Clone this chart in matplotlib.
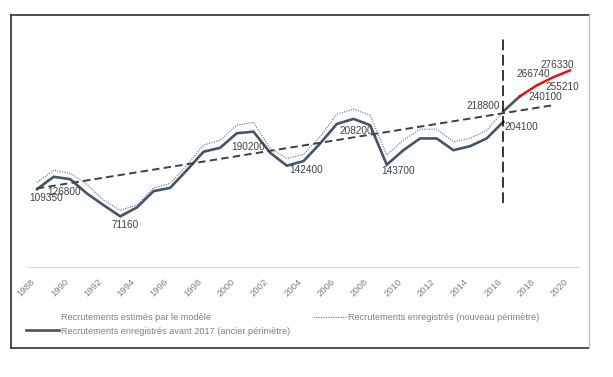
import matplotlib
matplotlib.use("Agg")
import matplotlib.pyplot as plt
from matplotlib.lines import Line2D

# --- données ---
annees = list(range(1988, 2017))
ancien_perimetre = [109350, 126800, 123400, 103300, 86900, 71160, 83700, 106600,
                    111300, 136100, 162000, 167600, 188000, 190200, 160600, 142400,
                    148800, 173600, 201000, 208200, 199400, 143700, 164200, 180700,
                    180700, 164200, 169800, 180700, 204100]
nouveau_perimetre = [118800, 136100, 131500, 116000, 93900, 79900, 86900, 111400,
                     117400, 143100, 171300, 178300, 199400, 203200, 166600, 152500,
                     158200, 183100, 214800, 221900, 213400, 157200, 178300, 193700,
                     193700, 176000, 180700, 192300, 218800]
jonction_annees = [2016, 2017]
jonction_valeurs = [218800, 240100]
modele_annees = [2017, 2018, 2019, 2020]
modele_valeurs = [240100, 255210, 266740, 276330]
tendance_annees = [1988, 2019]
tendance_valeurs = [110400, 227500]
rupture_annee = 2016
rupture_bornes = [90000, 322000]
ticks_annees = list(range(1988, 2021, 2))

# étiquettes : (année, valeur, décalage en points)
etiquettes = [
    (1988, 109350, (6.7, -6.2)),
    (1989, 126800, (7.7, -11.0)),
    (1993, 71160, (3.6, -6.5)),
    (2001, 190200, (-3.6, -11.3)),
    (2003, 142400, (13.7, -2.9)),
    (2007, 208200, (2.2, -8.4)),
    (2009, 143700, (7.9, -4.8)),
    (2016, 218800, (-14.8, 3.7)),
    (2016, 204100, (13.0, -4.1)),
    (2017, 240100, (18.5, -0.5)),
    (2018, 255210, (18.7, -1.4)),
    (2019, 266740, (-14.8, 2.4)),
    (2020, 276330, (-9.4, 3.6)),
]

police = ['Liberation Sans', 'DejaVu Sans']

fig = plt.figure(figsize=(6.13, 3.77), dpi=100)
ax = fig.add_axes([0.044, 0.2918, 0.9005, 0.6605])

navy = '#44546A'
ax.plot(annees, nouveau_perimetre, color='#5B6D8F', lw=0.8, ls=(0, (1, 1.2)))
ax.plot(annees, ancien_perimetre, color=navy, lw=1.9, solid_joinstyle='miter')
ax.plot(jonction_annees, jonction_valeurs, color=navy, lw=1.9)
ax.plot(modele_annees, modele_valeurs, color='#FF0000', lw=1.7)
ax.plot(tendance_annees, tendance_valeurs, color='#404040', lw=1.4, ls=(0, (3.8, 2.2)))
ax.plot([rupture_annee, rupture_annee], rupture_bornes, color='black', lw=1.1, ls=(0, (7, 3)))

for an, val, dec in etiquettes:
    ax.annotate(str(val), (an, val), xytext=dec, textcoords='offset points',
                ha='center', va='center', fontsize=7.2, color='#404040', family=police)

ax.set_xlim(1987.4, 2020.54)
ax.set_ylim(0, 350000)
ax.set_xticks(ticks_annees)
ax.set_xticklabels([str(a) for a in ticks_annees], rotation=45, ha='right',
                   fontsize=6.8, color='#808080', family=police)
ax.tick_params(axis='x', length=0, pad=7)
ax.set_yticks([])
for s in ['top', 'right', 'left']:
    ax.spines[s].set_visible(False)
ax.spines['bottom'].set_color('#D9D9D9')
ax.spines['bottom'].set_linewidth(0.8)

# légende (deux colonnes placées comme dans Excel)
h_modele = Line2D([], [], color='none')
h_ancien = Line2D([], [], color=navy, lw=1.9)
h_nouveau = Line2D([], [], color='#5B6D8F', lw=0.8, ls=(0, (1, 1.2)))
leg1 = fig.legend([h_modele, h_ancien],
                  ['Recrutements estimés par le modèle',
                   'Recrutements enregistrés avant 2017 (ancier périmètre)'],
                  loc='upper left', bbox_to_anchor=(25.8 / 613, 1 - 313 / 377),
                  frameon=False, handlelength=3.6, handletextpad=0.2,
                  borderpad=0, borderaxespad=0, labelspacing=0.5,
                  prop={'family': police, 'size': 6.6})
for t in leg1.get_texts():
    t.set_color('#808080')
leg2 = fig.legend([h_nouveau], ['Recrutements enregistrés (nouveau périmètre)'],
                  loc='upper left', bbox_to_anchor=(313 / 613, 1 - 313 / 377),
                  frameon=False, handlelength=3.6, handletextpad=0.2,
                  borderpad=0, borderaxespad=0,
                  prop={'family': police, 'size': 6.6})
for t in leg2.get_texts():
    t.set_color('#808080')

# cadre du graphique
x0, x1 = 10.7 / 613, 589.3 / 613
y0, y1 = 1 - 347.7 / 377, 1 - 14.7 / 377
fig.add_artist(Line2D([x0, x0], [y0, y1], color='#404040', lw=1.3))
fig.add_artist(Line2D([x0, x1], [y1, y1], color='#404040', lw=1.3))
fig.add_artist(Line2D([x0, x1], [y0, y0], color='#404040', lw=1.3))
fig.add_artist(Line2D([x1, x1], [y0, y1], color='#BFBFBF', lw=1.0))

fig.savefig('out.png', dpi=100)
